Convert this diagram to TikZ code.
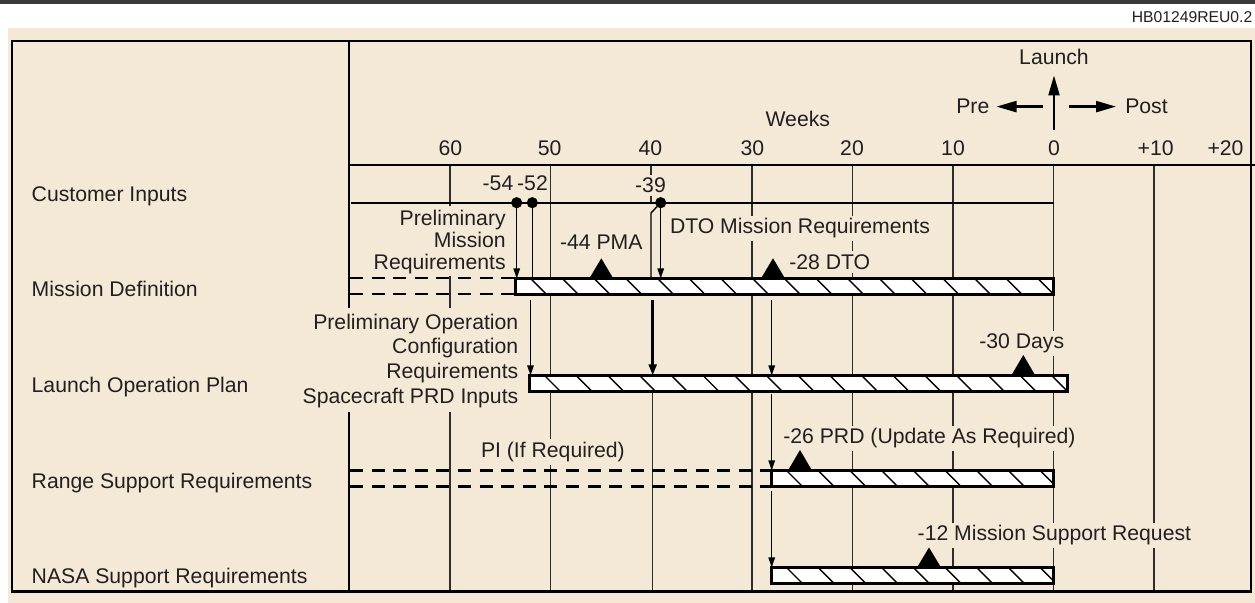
\documentclass[tikz,border=0pt]{standalone}
\usepackage{fontspec}
\setmainfont{Liberation Sans}
\usetikzlibrary{arrows.meta}
\definecolor{bg}{RGB}{244,232,215}
\definecolor{ink}{RGB}{35,31,32}
\definecolor{gridc}{RGB}{45,45,45}
\definecolor{rule}{RGB}{58,58,58}
\begin{document}
\begin{tikzpicture}[x=0.5pt,y=-0.5pt,
  every node/.style={inner sep=0pt, outer sep=0pt, text=ink},
  lbl/.style={font=\fontsize{10.6}{12.7}\selectfont},
  msk/.style={lbl, fill=bg, inner xsep=1pt, inner ysep=1.5pt},
  gridl/.style={line width=0.8pt, draw=gridc},
  dsh/.style={line width=1.25pt, dash pattern=on 6.5pt off 4.3pt},
  bar/.style={draw=black, line width=1.5pt, fill=white, anchor=north west,
    minimum height=8.1pt,
    path picture={\foreach \k in {0,...,18}
      \draw[line width=0.7pt] ([xshift=7.5pt+\k*15.85pt]path picture bounding box.north west) -- ++(10pt,-10pt);}},
  dot/.style={circle, fill=black, minimum size=5.6pt},
  arr/.style={line width=0.7pt, -{Triangle[length=5pt,width=3.2pt]}},
  thickarr/.style={line width=1.35pt, -{Triangle[length=5.5pt,width=3.8pt]}},
  bigarr/.style={line width=1.1pt, -{Triangle[length=10pt,width=5.5pt]}},
  milestone/.style={fill=black}
]
\useasboundingbox (0,0) rectangle (1255,603);
% top rule and background
\draw[line width=1.6pt, rule] (0,2) -- (1255,2);
\fill[bg] (8,28) rectangle (1255,603);
\node[font=\fontsize{7.85}{9}\selectfont, anchor=base east] (code) at (1252.3,22.7) {HB01249REU0.2};

% grid lines
\foreach \gx in {450,550.5,752,852.3,953,1053.5,1154}
  \draw[gridl] (\gx,165) -- (\gx,591.5);
\draw[gridl] (651,165) -- (651,203);
\draw[gridl] (652.5,392) -- (652.5,591.5);

% frame
\draw[line width=1.2pt] (12,41) rectangle (1251,591.5);
\draw[line width=1.2pt] (349,41) -- (349,591.5);
\draw[line width=0.85pt] (349,165) -- (1255,165);

% header
\node[lbl, anchor=base] (launch) at (1054,64.3) {Launch};
\node[lbl, anchor=base] (pre) at (972.8,113.3) {Pre};
\node[lbl, anchor=base] (post) at (1146.5,113.3) {Post};
\coordinate (lu0) at (1054,130);
\coordinate (lu1) at (1054,75.5);
\draw[bigarr] (lu0) -- (lu1);
\coordinate (pr0) at (1043,106.6);
\coordinate (pr1) at (996.5,106.6);
\draw[bigarr] (pr0) -- (pr1);
\coordinate (po0) at (1069,106.6);
\coordinate (po1) at (1116,106.6);
\draw[bigarr] (po0) -- (po1);
\node[lbl, anchor=base] (weeks) at (797.8,126.7) {Weeks};
\node[lbl, anchor=base] (w60) at (450.5,156) {60};
\node[lbl, anchor=base] (w50) at (549.7,156) {50};
\node[lbl, anchor=base] (w40) at (650.3,156) {40};
\node[lbl, anchor=base] (w30) at (752.3,156) {30};
\node[lbl, anchor=base] (w20) at (852,156) {20};
\node[lbl, anchor=base] (w10) at (953,156) {10};
\node[lbl, anchor=base] (w0) at (1054,156) {0};
\node[lbl, anchor=base] (wp10) at (1155.7,156) {+10};
\node[lbl, anchor=base] (wp20) at (1225.5,156) {+20};

% row labels
\node[lbl, anchor=base west] (rci) at (31.7,201.5) {Customer Inputs};
\node[lbl, anchor=base west] (rmd) at (31.7,296.7) {Mission Definition};
\node[lbl, anchor=base west] (rlop) at (31.7,392.3) {Launch Operation Plan};
\node[lbl, anchor=base west] (rrsr) at (31.7,488.3) {Range Support Requirements};
\node[lbl, anchor=base west] (rnasa) at (31.7,584) {NASA Support Requirements};

% customer line
\coordinate (cl0) at (351,203);
\coordinate (cl1) at (1053.5,203);
\draw[line width=1.25pt] (cl0) -- (cl1);

% dashed lead-ins
\draw[dsh] (350,278) -- (515.7,278);
\draw[dsh] (350,293.8) -- (515.7,293.8);
\draw[dsh] (350,470.5) -- (771.5,470.5);
\draw[dsh] (350,486.3) -- (771.5,486.3);

% bars
\node[bar, minimum width=268.9pt] (md) at (515.7,278.5) {};
\node[bar, minimum width=268.9pt] (lop) at (529.5,375.5) {};
\node[bar, minimum width=141pt] (rsr) at (771.5,470.5) {};
\node[bar, minimum width=141pt] (nasa) at (771.5,567.5) {};

% masks for multi-line labels
\fill[bg] (372,206) rectangle (508,276);
\fill[bg] (312,308) rectangle (522,412);

% labels
\node[lbl, anchor=base] (l54) at (498,190.7) {-54};
\node[lbl, anchor=base] (l52) at (532.5,190.7) {-52};
\node[msk, anchor=base] (l39) at (650.5,192.7) {-39};
\node[lbl, anchor=base east] (pm1) at (505.7,226) {Preliminary};
\node[lbl, anchor=base east] (pm2) at (505.7,247.3) {Mission};
\node[lbl, anchor=base east] (pm3) at (505.7,270) {Requirements};
\node[lbl, anchor=base east] (po1t) at (518.3,329.3) {Preliminary Operation};
\node[lbl, anchor=base east] (po2t) at (518.3,354) {Configuration};
\node[lbl, anchor=base east] (po3t) at (518.3,379) {Requirements};
\node[lbl, anchor=base east] (po4t) at (518.3,404) {Spacecraft PRD Inputs};
\node[msk, anchor=base west] (dto) at (668,234) {DTO Mission Requirements};
\node[msk, anchor=base west] (pma) at (558,250) {-44 PMA};
\node[msk, anchor=base west] (dto28) at (787.3,269.3) {-28 DTO};
\node[msk, anchor=base west] (d30) at (977.3,349) {-30 Days};
\node[msk, anchor=base west] (pi) at (479,457.3) {PI (If Required)};
\node[msk, anchor=base west] (prd) at (781.3,444) {-26 PRD (Update As Required)};
\node[msk, anchor=base west] (msr) at (915.7,541) {-12 Mission Support Request};

% milestone triangles
\fill[milestone] (589.3,278.5) -- (601.3,258.3) -- (613.3,278.5) -- cycle;
\fill[milestone] (761,278.5) -- (773,258.3) -- (785,278.5) -- cycle;
\fill[milestone] (1011.3,375.5) -- (1023.3,355) -- (1035.3,375.5) -- cycle;
\fill[milestone] (788,470.5) -- (800,450) -- (812,470.5) -- cycle;
\fill[milestone] (917,567.5) -- (929,547.5) -- (941,567.5) -- cycle;

% dots
\node[dot] (d54) at (516.7,202.7) {};
\node[dot] (d52) at (532.3,202.7) {};
\node[dot] (d39) at (660.7,202.7) {};

% connectors
\draw[arr] (d54) -- (d54 |- md.north);
\draw[line width=0.7pt] (d52) -- (d52 |- md.north);
\draw[arr] (d39) -- (d39 |- md.north);
\coordinate (j39) at (651,213);
\draw[line width=0.7pt] (d39) -- (j39) -- (j39 |- md.north);
\coordinate (x52) at (530.5,300.5);
\draw[arr] (x52) -- (x52 |- lop.north);
\coordinate (x40) at (652.7,300.5);
\draw[thickarr] (x40) -- (x40 |- lop.north);
\coordinate (x28a) at (771.7,300.5);
\draw[arr] (x28a) -- (x28a |- lop.north);
\coordinate (x28b) at (771.7,394.5);
\draw[arr] (x28b) -- (x28b |- rsr.north);
\coordinate (x28c) at (771.7,491.5);
\draw[arr] (x28c) -- (x28c |- nasa.north);
\end{tikzpicture}
\end{document}
